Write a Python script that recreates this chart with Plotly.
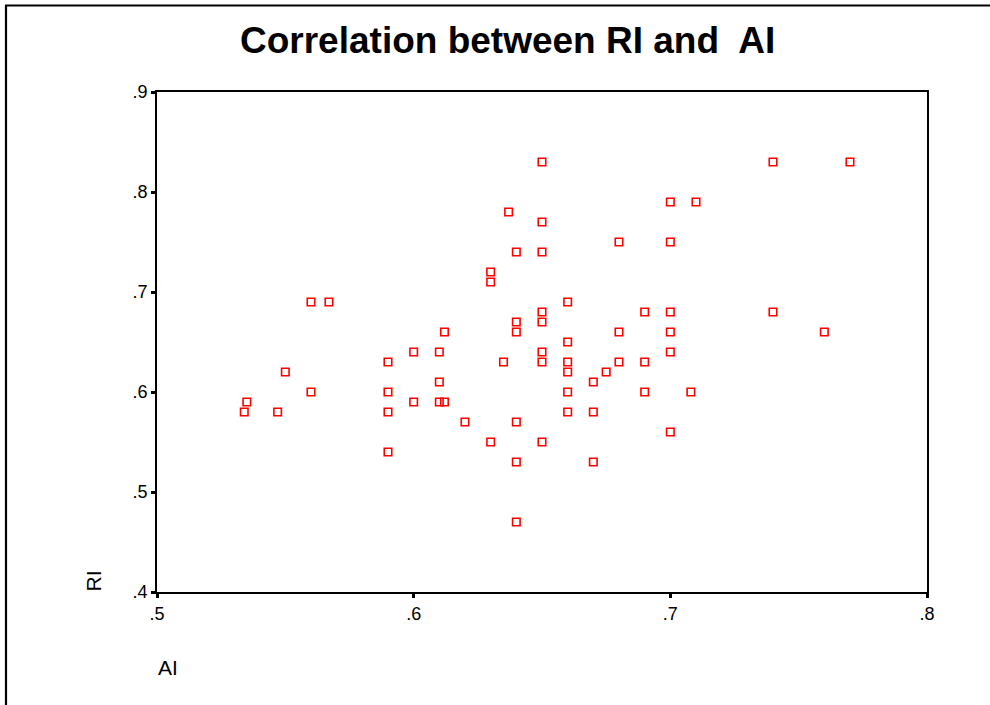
import plotly.graph_objects as go

# AI (x) and RI (y) values
ai = [0.534, 0.535, 0.547, 0.55, 0.56, 0.567, 0.56,
      0.59, 0.59, 0.59, 0.59,
      0.60, 0.60,
      0.61, 0.61, 0.61, 0.612, 0.612,
      0.62,
      0.63, 0.63, 0.63,
      0.635,
      0.637,
      0.64, 0.64, 0.64, 0.64, 0.64, 0.64,
      0.65, 0.65, 0.65, 0.65, 0.65, 0.65, 0.65, 0.65,
      0.66, 0.66, 0.66, 0.66, 0.66, 0.66,
      0.67, 0.67, 0.67,
      0.675,
      0.68, 0.68, 0.68,
      0.69, 0.69, 0.69,
      0.70, 0.70, 0.70, 0.70, 0.70, 0.70,
      0.708,
      0.71,
      0.74, 0.74,
      0.76,
      0.77]
ri = [0.58, 0.59, 0.58, 0.62, 0.69, 0.69, 0.60,
      0.63, 0.60, 0.58, 0.54,
      0.64, 0.59,
      0.64, 0.61, 0.59, 0.59, 0.66,
      0.57,
      0.72, 0.71, 0.55,
      0.63,
      0.78,
      0.74, 0.67, 0.66, 0.57, 0.53, 0.47,
      0.83, 0.77, 0.74, 0.68, 0.67, 0.64, 0.63, 0.55,
      0.69, 0.65, 0.63, 0.62, 0.60, 0.58,
      0.61, 0.58, 0.53,
      0.62,
      0.75, 0.66, 0.63,
      0.68, 0.63, 0.60,
      0.79, 0.75, 0.68, 0.66, 0.64, 0.56,
      0.60,
      0.79,
      0.83, 0.68,
      0.66,
      0.83]

x_ticks = [0.5, 0.6, 0.7, 0.8]
x_tick_labels = [".5", ".6", ".7", ".8"]
y_ticks = [0.4, 0.5, 0.6, 0.7, 0.8, 0.9]
y_tick_labels = [".4", ".5", ".6", ".7", ".8", ".9"]

title_text = "Correlation between RI and  AI"
x_title = "AI"
y_title = "RI"

FONT = "Liberation Sans, Arial, sans-serif"

fig = go.Figure(go.Scatter(
    x=ai, y=ri, mode="markers",
    marker=dict(symbol="square-open", size=7.5, color="#ff0000",
                line=dict(width=1.6, color="#ff0000")),
    showlegend=False, hoverinfo="x+y"))

axis_common = dict(showgrid=False, zeroline=False, showline=True, linecolor="black",
                   linewidth=2, mirror=True, ticks="outside", ticklen=4, tickwidth=3,
                   tickcolor="black", tickfont=dict(family=FONT, size=18, color="black"))

fig.update_xaxes(range=[0.5, 0.8], tickvals=x_ticks, ticktext=x_tick_labels, **axis_common)
fig.update_yaxes(range=[0.4, 0.9], tickvals=y_ticks, ticktext=y_tick_labels, **axis_common)

L, R, T, B = 157, 63, 92, 113
W, H = 990, 705
pw, ph = W - L - R, H - T - B

def px(xpix):
    return (xpix - L) / pw

def py(ypix):
    return (H - B - ypix) / ph

fig.update_layout(
    width=W, height=H,
    margin=dict(l=L, r=R, t=T, b=B),
    paper_bgcolor="white", plot_bgcolor="white",
    font=dict(family=FONT, color="black"),
    annotations=[
        dict(text="<b>" + title_text + "</b>", xref="paper", yref="paper",
             x=px(507), y=py(41), xanchor="center", yanchor="middle",
             showarrow=False, font=dict(family=FONT, size=37, color="black")),
        dict(text=x_title, xref="paper", yref="paper", x=px(156), y=py(667),
             xanchor="left", yanchor="middle", showarrow=False,
             font=dict(family=FONT, size=21, color="black")),
        dict(text=y_title, xref="paper", yref="paper", x=px(93), y=py(594),
             xanchor="center", yanchor="bottom", textangle=-90, showarrow=False,
             font=dict(family=FONT, size=21, color="black")),
    ],
    shapes=[
        dict(type="line", xref="paper", yref="paper", x0=px(6), x1=px(6),
             y0=py(720), y1=py(5.5), line=dict(color="black", width=2.2)),
        dict(type="line", xref="paper", yref="paper", x0=px(5), x1=px(1000),
             y0=py(5.5), y1=py(5.5), line=dict(color="black", width=2.2)),
    ],
)

fig.write_html("out.html", config={"displayModeBar": False},
               post_script="document.body.style.margin='0';")
